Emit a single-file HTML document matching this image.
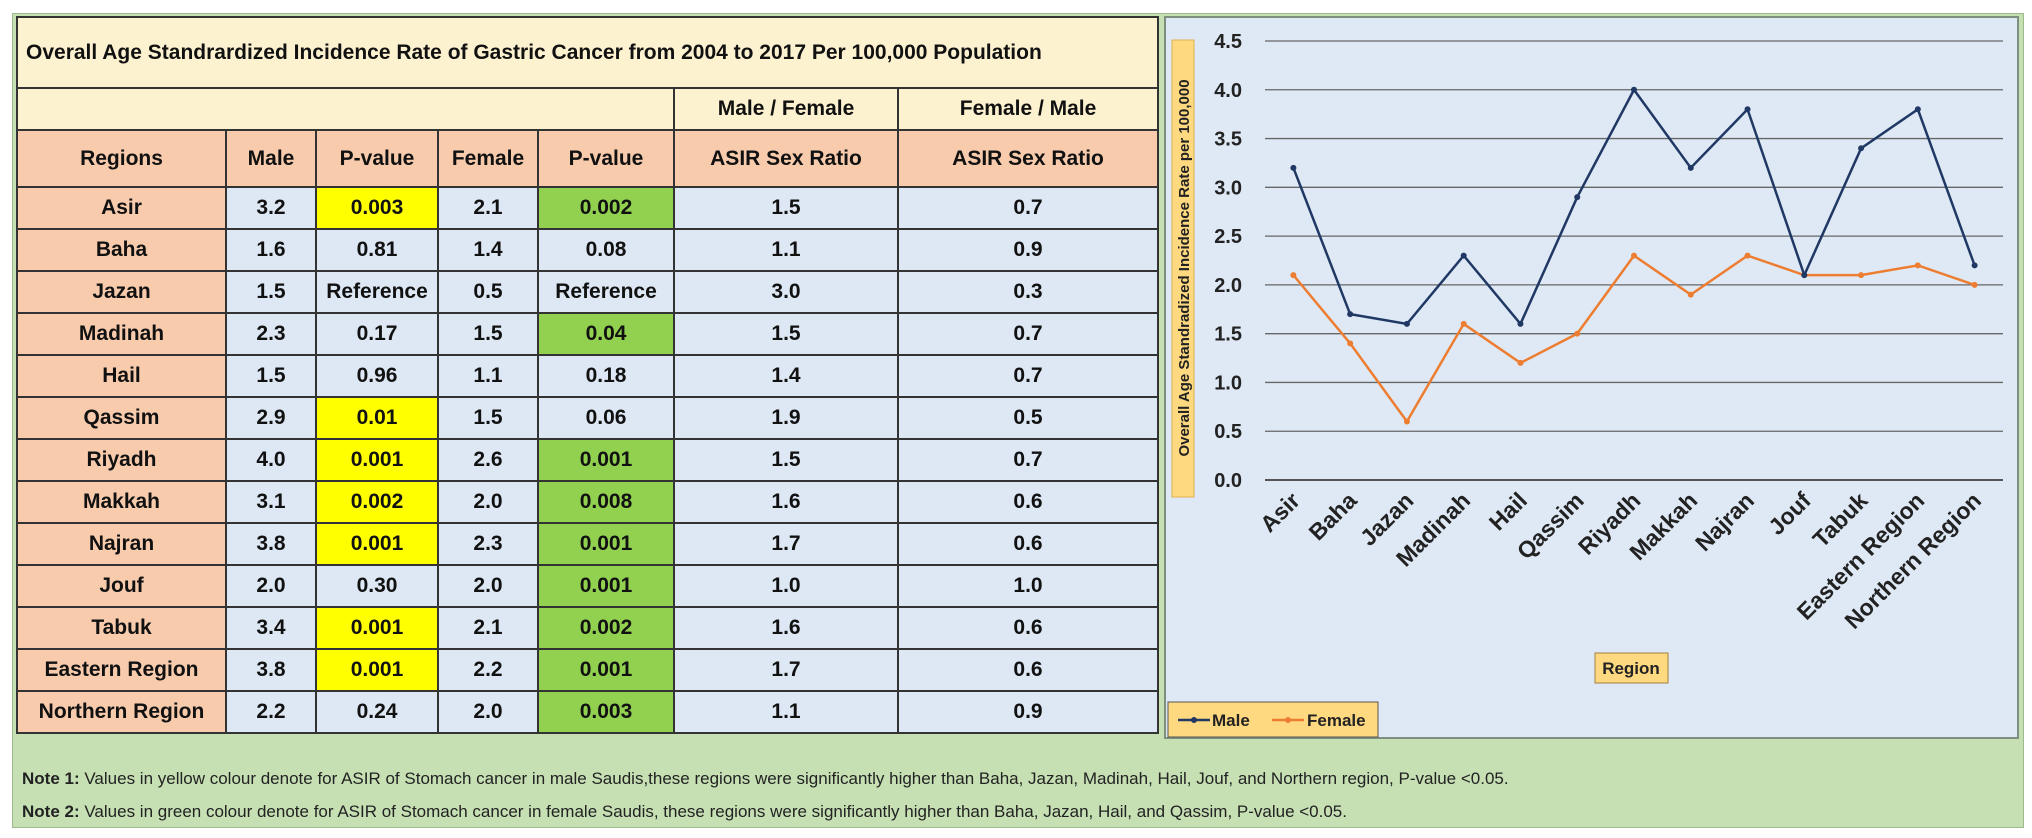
<!DOCTYPE html>
<html><head><meta charset="utf-8"><style>
body{margin:0;width:2032px;height:838px;background:#fff;position:relative;font-family:"Liberation Sans",sans-serif;overflow:hidden}
#outer{position:absolute;left:12px;top:13px;width:2010px;height:813px;background:#c6e0b4;border:1px solid #9bbb8a}
table{position:absolute;left:16px;top:16px;border-collapse:collapse;table-layout:fixed;width:1141px}
td{border:2px solid #333;text-align:center;font-weight:bold;font-size:21px;color:#111;padding:0;height:40px;background:#dde8f4}
td.r{background:#f8cbad}
td.h{background:#f8cbad;height:55px}
td.c{background:#fdf2d0}
td.y{background:#ffff00}
td.g{background:#92d050}
td.t{background:#fdf2d0;text-align:left;padding-left:8px;font-size:21px;height:69px}
#chart{position:absolute;left:1164px;top:16px;width:855px;height:723px;background:#dfe9f5;border:2px solid #7f8f7f;box-sizing:border-box}
.note{position:absolute;left:22px;font-size:17px;color:#222}
</style></head><body>
<div id="outer"></div>
<table>
<colgroup><col style="width:209px"><col style="width:90px"><col style="width:122px"><col style="width:100px"><col style="width:136px"><col style="width:224px"><col style="width:260px"></colgroup>
<tr><td class="t" colspan="7">Overall Age Standrardized Incidence Rate of Gastric Cancer from 2004 to 2017 Per 100,000 Population</td></tr>
<tr><td class="c" colspan="5" style="height:39px"></td><td class="c">Male / Female</td><td class="c">Female / Male</td></tr>
<tr><td class="h">Regions</td><td class="h">Male</td><td class="h">P-value</td><td class="h">Female</td><td class="h">P-value</td><td class="h">ASIR Sex Ratio</td><td class="h">ASIR Sex Ratio</td></tr>
<tbody id="tb"></tbody>
</table>
<div id="chart">
<svg id="svg" width="855" height="723" style="position:absolute;left:-2px;top:-2px"></svg>
</div>
<div class="note" style="top:769px"><b>Note 1:</b> Values in yellow colour denote for ASIR of Stomach cancer in male Saudis,these regions were significantly higher than Baha, Jazan, Madinah, Hail, Jouf, and Northern region, P-value &lt;0.05.</div>
<div class="note" style="top:802px"><b>Note 2:</b> Values in green colour denote for ASIR of Stomach cancer in female Saudis, these regions were significantly higher than Baha, Jazan, Hail, and Qassim, P-value &lt;0.05.</div>
<script>
const rows=[["Asir","3.2","0.003","2.1","0.002","1.5","0.7","y","g"],["Baha","1.6","0.81","1.4","0.08","1.1","0.9","",""],["Jazan","1.5","Reference","0.5","Reference","3.0","0.3","",""],["Madinah","2.3","0.17","1.5","0.04","1.5","0.7","","g"],["Hail","1.5","0.96","1.1","0.18","1.4","0.7","",""],["Qassim","2.9","0.01","1.5","0.06","1.9","0.5","y",""],["Riyadh","4.0","0.001","2.6","0.001","1.5","0.7","y","g"],["Makkah","3.1","0.002","2.0","0.008","1.6","0.6","y","g"],["Najran","3.8","0.001","2.3","0.001","1.7","0.6","y","g"],["Jouf","2.0","0.30","2.0","0.001","1.0","1.0","","g"],["Tabuk","3.4","0.001","2.1","0.002","1.6","0.6","y","g"],["Eastern Region","3.8","0.001","2.2","0.001","1.7","0.6","y","g"],["Northern Region","2.2","0.24","2.0","0.003","1.1","0.9","","g"]];
const tb=document.getElementById('tb');
rows.forEach(r=>{const tr=document.createElement('tr');


for(let i=0;i<7;i++){const td=document.createElement('td');td.textContent=r[i];
if(i==0)td.className='r';if(i==2&&r[7])td.className='y';if(i==4&&r[8])td.className='g';
tr.appendChild(td);}
tb.appendChild(tr);});

const categories=["Asir","Baha","Jazan","Madinah","Hail","Qassim","Riyadh","Makkah","Najran","Jouf","Tabuk","Eastern Region","Northern Region"];
const maleValues=[3.2,1.7,1.6,2.3,1.6,2.9,4.0,3.2,3.8,2.1,3.4,3.8,2.2];
const femaleValues=[2.1,1.4,0.6,1.6,1.2,1.5,2.3,1.9,2.3,2.1,2.1,2.2,2.0];
const yTicks=[0,0.5,1,1.5,2,2.5,3,3.5,4,4.5];
const NS='http://www.w3.org/2000/svg',svg=document.getElementById('svg');
const L=101,R=839,T=25,B=464;
const x=i=>L+(R-L)/categories.length*(i+0.5);
const y=v=>B-(v/4.5)*(B-T);
function mk(t,a,p){const e=document.createElementNS(NS,t);for(const k in a)e.setAttribute(k,a[k]);(p||svg).appendChild(e);return e;}
yTicks.forEach(v=>{
const g=mk('line',{x1:L,x2:R,y1:y(v),y2:y(v),stroke:v===0?'#555':'#666','stroke-width':v===0?2:1.3});


const t=mk('text',{x:78,y:y(v)+7,'text-anchor':'end','font-size':20,'font-weight':'bold',fill:'#222'});t.textContent=v.toFixed(1);

});
categories.forEach((c,i)=>{const t=mk('text',{transform:`translate(${x(i)+8},${B+22}) rotate(-45)`,'text-anchor':'end','font-size':23,'font-weight':'bold',fill:'#222'});t.textContent=c;

});
function series(vals,col,name){
const p=mk('polyline',{points:vals.map((v,i)=>x(i)+','+y(v)).join(' '),fill:'none',stroke:col,'stroke-width':2.5});


vals.forEach((v,i)=>{const c=mk('circle',{cx:x(i),cy:y(v),r:3,fill:col});

});}
series(femaleValues,'#ed7d31','female');
series(maleValues,'#203864','male');
mk('rect',{x:8,y:24,width:22,height:457,fill:'#ffd980',stroke:'#e0b050'});
const yt=mk('text',{transform:'translate(25,252) rotate(-90)','text-anchor':'middle','font-size':15,'font-weight':'bold',fill:'#222'});yt.textContent='Overall Age Standradized Incidence Rate per 100,000';


mk('rect',{x:431,y:637,width:73,height:30,fill:'#ffd980',stroke:'#a08040'});
const xt=mk('text',{x:467,y:658,'text-anchor':'middle','font-size':17,'font-weight':'bold',fill:'#222'});xt.textContent='Region';


const lg=mk('rect',{x:4,y:686,width:210,height:35,fill:'#ffd980',stroke:'#555'});


mk('line',{x1:14,x2:46,y1:704,y2:704,stroke:'#203864','stroke-width':2.5});mk('circle',{cx:30,cy:704,r:3,fill:'#203864'});
const l1=mk('text',{x:48,y:710,'font-size':17,'font-weight':'bold',fill:'#222'});l1.textContent='Male';


mk('line',{x1:108,x2:140,y1:704,y2:704,stroke:'#ed7d31','stroke-width':2.5});mk('circle',{cx:124,cy:704,r:3,fill:'#ed7d31'});
const l2=mk('text',{x:143,y:710,'font-size':17,'font-weight':'bold',fill:'#222'});l2.textContent='Female';


</script>
</body></html>
